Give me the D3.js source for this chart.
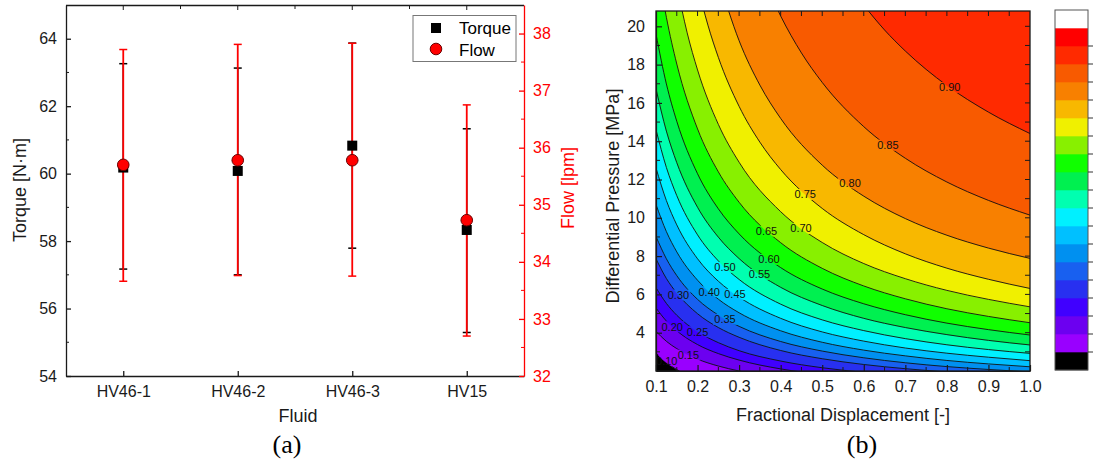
<!DOCTYPE html>
<html><head><meta charset="utf-8">
<script src="https://cdn.jsdelivr.net/npm/d3@7"></script>
<style>
body{margin:0;background:#fff}
svg{display:block}
text{font-family:"Liberation Sans",Arial,sans-serif}
</style>
</head><body>
<svg id="c" width="1094" height="461"></svg>
<script>
// ---------- panel (a) data ----------
const fluids = ["HV46-1","HV46-2","HV46-3","HV15"];
const torqueMean = [60.18, 60.08, 60.83, 58.33];
const torqueHigh = [63.26, 63.13, 63.87, 61.33];
const torqueLow  = [57.17, 57.00, 57.79, 55.29];
const flowMean = [35.70, 35.78, 35.78, 34.73];
const flowHigh = [37.72, 37.81, 37.83, 36.75];
const flowLow  = [33.66, 33.76, 33.75, 32.70];
const torqueTicks = [54,56,58,60,62,64];
const torqueMinor = [55,57,59,61,63];
const flowTicks = [32,33,34,35,36,37,38];
const flowMinor = [32.5,33.5,34.5,35.5,36.5,37.5];

// ---------- panel (b) data ----------
const dispTicks = [0.1,0.2,0.3,0.4,0.5,0.6,0.7,0.8,0.9,1.0];
const pressTicks = [4,6,8,10,12,14,16,18,20];
const contourLevels = [0.10,0.15,0.20,0.25,0.30,0.35,0.40,0.45,0.50,0.55,0.60,0.65,0.70,0.75,0.80,0.85,0.90];
// each contour line: [fractional displacement, pressure MPa] points
const line010 = [[0.1,2.95],[0.115,2.62],[0.13,2.36],[0.145,2.14],[0.16,1.95]];
const line015 = [[0.1,4.07],[0.125,3.55],[0.15,3.17],[0.2,2.62],[0.25,2.26],[0.3,2.00],[0.35,1.80]];
const line020 = [[0.1,5.29],[0.125,4.61],[0.15,4.10],[0.2,3.38],[0.25,2.91],[0.3,2.57],[0.4,2.11],[0.5,1.82]];
const line025 = [[0.1,6.35],[0.125,5.53],[0.15,4.91],[0.2,4.05],[0.25,3.48],[0.3,3.06],[0.4,2.52],[0.5,2.17],[0.6,1.93]];
const line030 = [[0.1,7.86],[0.125,6.83],[0.15,6.07],[0.2,4.99],[0.25,4.27],[0.3,3.76],[0.4,3.07],[0.5,2.64],[0.6,2.34],[0.7,2.12],[0.8,1.95]];
const line035 = [[0.1,9.02],[0.125,7.86],[0.15,6.98],[0.2,5.74],[0.25,4.92],[0.3,4.33],[0.4,3.54],[0.5,3.04],[0.6,2.69],[0.7,2.43],[0.8,2.23],[0.9,2.08],[1.0,1.95]];
const line040 = [[0.1,10.69],[0.125,9.28],[0.15,8.22],[0.2,6.74],[0.25,5.75],[0.3,5.04],[0.4,4.10],[0.5,3.50],[0.6,3.09],[0.7,2.79],[0.8,2.55],[0.9,2.37],[1.0,2.22]];
const line045 = [[0.1,12.60],[0.125,10.90],[0.15,9.63],[0.2,7.86],[0.25,6.69],[0.3,5.86],[0.4,4.75],[0.5,4.04],[0.6,3.56],[0.7,3.20],[0.8,2.93],[0.9,2.72],[1.0,2.54]];
const line050 = [[0.1,14.60],[0.125,12.63],[0.15,11.16],[0.2,9.11],[0.25,7.75],[0.3,6.78],[0.4,5.49],[0.5,4.67],[0.6,4.11],[0.7,3.69],[0.8,3.37],[0.9,3.12],[1.0,2.92]];
const line055 = [[0.1,16.73],[0.125,14.53],[0.15,12.88],[0.2,10.55],[0.25,8.99],[0.3,7.87],[0.4,6.37],[0.5,5.42],[0.6,4.75],[0.7,4.27],[0.8,3.90],[0.9,3.60],[1.0,3.36]];
const line060 = [[0.1,19.59],[0.125,16.99],[0.15,15.04],[0.2,12.30],[0.25,10.47],[0.3,9.16],[0.4,7.40],[0.5,6.28],[0.6,5.51],[0.7,4.94],[0.8,4.50],[0.9,4.16],[1.0,3.88]];
const line065 = [[0.11,22.31],[0.125,20.47],[0.15,18.03],[0.2,14.64],[0.25,12.40],[0.3,10.81],[0.4,8.70],[0.5,7.36],[0.6,6.44],[0.7,5.77],[0.8,5.25],[0.9,4.85],[1.0,4.52]];
const line070 = [[0.15,22.14],[0.175,19.66],[0.2,17.72],[0.25,14.88],[0.3,12.90],[0.4,10.32],[0.5,8.71],[0.6,7.61],[0.7,6.82],[0.8,6.21],[0.9,5.74],[1.0,5.35]];
const line075 = [[0.2,22.11],[0.225,20.06],[0.25,18.38],[0.3,15.82],[0.35,13.95],[0.4,12.52],[0.5,10.49],[0.6,9.12],[0.7,8.12],[0.8,7.37],[0.9,6.79],[1.0,6.31]];
const line080 = [[0.25,22.5],[0.3,19.25],[0.35,16.93],[0.4,15.19],[0.5,12.75],[0.6,11.13],[0.7,9.96],[0.8,9.09],[0.9,8.42],[1.0,7.88]];
const line085 = [[0.375,21.69],[0.4,20.54],[0.45,18.61],[0.5,17.07],[0.6,14.76],[0.7,13.11],[0.8,11.87],[0.9,10.91],[1.0,10.14]];
const line090 = [[0.6,21.1],[0.65,19.81],[0.7,18.71],[0.8,16.91],[0.9,15.52],[1.0,14.4]];
const contourLines = [line010,line015,line020,line025,line030,line035,line040,line045,line050,line055,line060,line065,line070,line075,line080,line085,line090];
// band colours from 0.10 upward (0.10-0.15 ... 0.95-1.00)
const bandColors = ["#9900ff","#6c00f0","#4000ff","#2830f0","#1860f0","#0090f0","#00c0ff","#00f0ff","#00ffb0","#00f050","#10ff00","#88f000","#f0f000","#f8b800","#f88000","#f85a00","#ff2a00","#ff0000"];
const lowColor = "#000000", highColor = "#ffffff";
const labelText = ["0.10","0.15","0.20","0.25","0.30","0.35","0.40","0.45","0.50","0.55","0.60","0.65","0.70","0.75","0.80","0.85","0.90"];
const labelX = [0.126,0.178,0.139,0.200,0.154,0.266,0.228,0.290,0.266,0.349,0.372,0.366,0.449,0.459,0.567,0.658,0.807];
const labelP = [2.54,2.83,4.31,4.05,5.96,4.70,6.14,6.00,7.41,7.04,7.83,9.30,9.44,11.22,11.82,13.79,16.80];

const svg = d3.select("#c");
const ink = "#1a1a1a";

// ================= PANEL (a) =================
const A = {l:66, r:524, t:5, b:376};
const xA = d3.scalePoint().domain(fluids).range([A.l, A.r]).padding(0.5);
const yT = d3.scaleLinear().domain([54,65]).range([A.b, A.t]);
const yF = d3.scaleLinear().domain([32,38.5]).range([A.b, A.t]);
const gA = svg.append("g");

gA.append("line").attr("x1",A.l).attr("x2",A.r).attr("y1",A.t+0.5).attr("y2",A.t+0.5).attr("stroke",ink).attr("stroke-width",1.3);
const step = xA.step();
fluids.forEach(f=>{
  gA.append("line").attr("x1",xA(f)).attr("x2",xA(f)).attr("y1",A.t).attr("y2",A.t+5).attr("stroke",ink);
});
[1,2,3].forEach(k=>{
  const xx = A.l + step*k;
  gA.append("line").attr("x1",xx).attr("x2",xx).attr("y1",A.t).attr("y2",A.t+4).attr("stroke",ink);
});

const axB = gA.append("g").attr("transform",`translate(0,${A.b})`)
  .call(d3.axisBottom(xA).tickSizeInner(-5).tickSizeOuter(0).tickPadding(9.5));
const axL = gA.append("g").attr("transform",`translate(${A.l},0)`)
  .call(d3.axisLeft(yT).tickValues(torqueTicks).tickFormat(d3.format("d")).tickSizeInner(-5).tickSizeOuter(0).tickPadding(9));
const axR = gA.append("g").attr("transform",`translate(${A.r},0)`)
  .call(d3.axisRight(yF).tickValues(flowTicks).tickFormat(d3.format("d")).tickSizeInner(-5).tickSizeOuter(0).tickPadding(9));
[axB, axL].forEach(a=>{
  a.selectAll("path,line").attr("stroke",ink).attr("stroke-width",1.3);
  a.selectAll("text").attr("fill",ink).style("font-size","16px");
});
axR.selectAll("path,line").attr("stroke","#ff0000").attr("stroke-width",1.3);
axR.selectAll("text").attr("fill","#ff0000").style("font-size","16px");
torqueMinor.forEach(v=>{
  gA.append("line").attr("x1",A.l).attr("x2",A.l+3).attr("y1",yT(v)).attr("y2",yT(v)).attr("stroke",ink);
});
flowMinor.forEach(v=>{
  gA.append("line").attr("x1",A.r).attr("x2",A.r-3).attr("y1",yF(v)).attr("y2",yF(v)).attr("stroke","#ff0000");
});

fluids.forEach((f,i)=>{
  const x = xA(f);
  gA.append("line").attr("x1",x).attr("x2",x).attr("y1",yT(torqueLow[i])).attr("y2",yT(torqueHigh[i])).attr("stroke","#000").attr("stroke-width",1.5);
  [torqueLow[i], torqueHigh[i]].forEach(v=>{
    gA.append("line").attr("x1",x-4).attr("x2",x+4).attr("y1",yT(v)).attr("y2",yT(v)).attr("stroke","#000").attr("stroke-width",1.5);
  });
});
fluids.forEach((f,i)=>{
  const x = xA(f);
  gA.append("line").attr("x1",x).attr("x2",x).attr("y1",yF(flowLow[i])).attr("y2",yF(flowHigh[i])).attr("stroke","#ff0000").attr("stroke-width",1.8);
  [flowLow[i], flowHigh[i]].forEach(v=>{
    gA.append("line").attr("x1",x-4).attr("x2",x+4).attr("y1",yF(v)).attr("y2",yF(v)).attr("stroke","#ff0000").attr("stroke-width",1.5);
  });
});
gA.selectAll("rect.tq").data(fluids).join("rect").attr("class","tq")
  .attr("x",d=>xA(d)-5).attr("y",(d,i)=>yT(torqueMean[i])-5).attr("width",10).attr("height",10).attr("fill","#000");
gA.selectAll("circle.fl").data(fluids).join("circle").attr("class","fl")
  .attr("cx",d=>xA(d)).attr("cy",(d,i)=>yF(flowMean[i])).attr("r",5.8)
  .attr("fill","#ff0000").attr("stroke","#6a0000").attr("stroke-width",1);

const lg = gA.append("g");
lg.append("rect").attr("x",413).attr("y",15.5).attr("width",103).attr("height",46).attr("fill","#fff").attr("stroke","#777").attr("stroke-width",1);
lg.append("rect").attr("x",431).attr("y",23).attr("width",10).attr("height",10).attr("fill","#000");
lg.append("circle").attr("cx",436).attr("cy",49).attr("r",5.8).attr("fill","#ff0000").attr("stroke","#6a0000");
lg.append("text").attr("x",459).attr("y",34).text("Torque").style("font-size","17px").attr("fill","#000");
lg.append("text").attr("x",459).attr("y",56).text("Flow").style("font-size","17px").attr("fill","#000");

gA.append("text").attr("transform","translate(26,190) rotate(-90)").attr("text-anchor","middle").text("Torque [N·m]").style("font-size","18px").attr("fill",ink);
gA.append("text").attr("transform","translate(574,188) rotate(-90)").attr("text-anchor","middle").text("Flow [lpm]").style("font-size","18px").attr("fill","#ff0000");
gA.append("text").attr("x",298).attr("y",422).attr("text-anchor","middle").text("Fluid").style("font-size","18px").attr("fill",ink);
svg.append("text").attr("x",287).attr("y",453).attr("text-anchor","middle").text("(a)").style("font-family","'Liberation Serif','Times New Roman',serif").style("font-size","26px").attr("fill","#000");

// ================= PANEL (b) =================
const B = {l:656, r:1030, t:11, b:371};
const xB = d3.scaleLinear().domain([0.1,1.0]).range([B.l,B.r]);
const yB = d3.scaleLinear().domain([2,20.8]).range([B.b,B.t]);
const gB = svg.append("g");
const defs = svg.append("defs");
defs.append("clipPath").attr("id","clipB").append("rect").attr("x",B.l).attr("y",B.t).attr("width",B.r-B.l).attr("height",B.b-B.t);
const mask = defs.append("mask").attr("id","lblmask").attr("maskUnits","userSpaceOnUse")
  .attr("x",0).attr("y",0).attr("width",1094).attr("height",461);
mask.append("rect").attr("x",0).attr("y",0).attr("width",1094).attr("height",461).attr("fill","#fff");
labelText.forEach((t,i)=>{
  mask.append("rect").attr("x",xB(labelX[i])-12).attr("y",yB(labelP[i])-5.5).attr("width",24).attr("height",11).attr("fill","#000");
});

const plotG = gB.append("g").attr("clip-path","url(#clipB)");
plotG.append("rect").attr("x",B.l).attr("y",B.t).attr("width",B.r-B.l).attr("height",B.b-B.t).attr("fill",lowColor);
const lineGen = d3.line().x(d=>xB(d[0])).y(d=>yB(d[1])).curve(d3.curveMonotoneX);
contourLines.forEach((pts,i)=>{
  const first = pts[0], last = pts[pts.length-1];
  const x0 = first[0] <= 0.1 ? 0.05 : first[0];
  const tail = [[1.2,last[1]],[1.2,25],[x0,25],[x0,first[1]]];
  const d = lineGen(pts) + tail.map(q=>`L${xB(q[0])},${yB(q[1])}`).join("") + "Z";
  plotG.append("path").attr("d",d).attr("fill",bandColors[i]).attr("stroke",bandColors[i]).attr("stroke-width",0.6);
});
const linesG = plotG.append("g").attr("mask","url(#lblmask)");
contourLines.forEach(pts=>{
  linesG.append("path").attr("d",lineGen(pts)).attr("fill","none").attr("stroke","#111").attr("stroke-width",0.9);
});
labelText.forEach((t,i)=>{
  plotG.append("text").attr("x",xB(labelX[i])).attr("y",yB(labelP[i])).attr("dy","0.35em")
    .attr("text-anchor","middle").text(t).style("font-size","11px").attr("fill","#111");
});

gB.append("rect").attr("x",B.l).attr("y",B.t).attr("width",B.r-B.l).attr("height",B.b-B.t).attr("fill","none").attr("stroke",ink).attr("stroke-width",1.3);
const axBB = gB.append("g").attr("transform",`translate(0,${B.b})`)
  .call(d3.axisBottom(xB).tickValues(dispTicks).tickFormat(d3.format(".1f")).tickSizeInner(-6).tickSizeOuter(0).tickPadding(9.5));
const axBL = gB.append("g").attr("transform",`translate(${B.l},0)`)
  .call(d3.axisLeft(yB).tickValues(pressTicks).tickFormat(d3.format("d")).tickSizeInner(-6).tickSizeOuter(0).tickPadding(11));
[axBB, axBL].forEach(a=>{
  a.selectAll("path,line").attr("stroke",ink).attr("stroke-width",1.2);
  a.selectAll("text").attr("fill",ink).style("font-size","16px");
});
d3.range(0.15,1.0,0.1).forEach(v=>{
  gB.append("line").attr("x1",xB(v)).attr("x2",xB(v)).attr("y1",B.b).attr("y2",B.b-4).attr("stroke",ink);
});
d3.range(0.15,1.0,0.05).forEach(v=>{
  gB.append("line").attr("x1",xB(v)).attr("x2",xB(v)).attr("y1",B.t).attr("y2",B.t+5).attr("stroke",ink);
});
d3.range(3,20,2).forEach(v=>{
  gB.append("line").attr("x1",B.l).attr("x2",B.l+4).attr("y1",yB(v)).attr("y2",yB(v)).attr("stroke",ink);
});
d3.range(3,21,1).forEach(v=>{
  gB.append("line").attr("x1",B.r).attr("x2",B.r-5).attr("y1",yB(v)).attr("y2",yB(v)).attr("stroke",ink);
});

gB.append("text").attr("transform","translate(619,196) rotate(-90)").attr("text-anchor","middle").text("Differential Pressure [MPa]").style("font-size","18px").attr("fill",ink);
gB.append("text").attr("x",843).attr("y",421).attr("text-anchor","middle").text("Fractional Displacement [-]").style("font-size","18px").attr("fill",ink);
svg.append("text").attr("x",862).attr("y",453).attr("text-anchor","middle").text("(b)").style("font-family","'Liberation Serif','Times New Roman',serif").style("font-size","26px").attr("fill","#000");

// colour bar
const cbColors = [lowColor, ...bandColors, highColor];
const yC = d3.scaleLinear().domain([0, cbColors.length]).range([370,10]);
const cb = svg.append("g");
cbColors.forEach((c,i)=>{
  cb.append("rect").attr("x",1055).attr("y",yC(i+1)).attr("width",33).attr("height",yC(i)-yC(i+1)+0.3).attr("fill",c);
});
cb.append("rect").attr("x",1055).attr("y",10).attr("width",33).attr("height",360).attr("fill","none").attr("stroke","#555").attr("stroke-width",1);
d3.range(1,cbColors.length-1).forEach(i=>{
  cb.append("line").attr("x1",1088).attr("x2",1093).attr("y1",yC(i)).attr("y2",yC(i)).attr("stroke","#333");
});
</script>
</body></html>
